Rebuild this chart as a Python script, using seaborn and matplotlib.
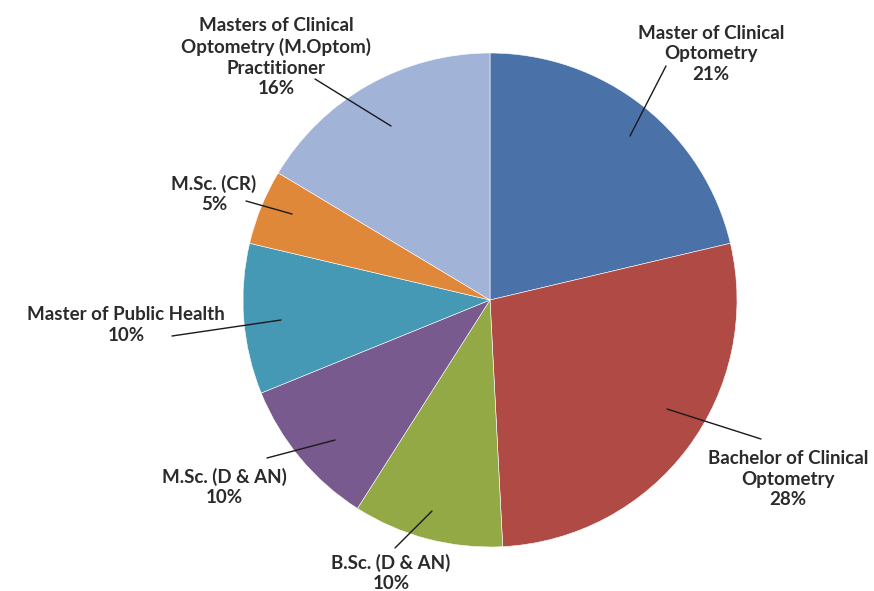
"""pie chart of programme shares, seaborn styling"""
import matplotlib
matplotlib.use("Agg")
import matplotlib.pyplot as plt
import seaborn as sns

sns.set_style("white")
plt.rcParams["font.family"] = ["Lato", "DejaVu Sans"]

programmes = [
    "Master of Clinical\nOptometry",
    "Bachelor of Clinical\nOptometry",
    "B.Sc. (D & AN)",
    "M.Sc. (D & AN)",
    "Master of Public Health",
    "M.Sc. (CR)",
    "Masters of Clinical\nOptometry (M.Optom)\nPractitioner",
]
counts = [13, 17, 6, 6, 6, 3, 10]
colours = ["#4a72a8", "#b04a45", "#93a945", "#785a8f", "#4599b5", "#e0883a", "#a2b3d8"]

W, H = 874, 591
# label centre and leader line (pixel coords, y down)
label_pos = [(711, 54), (788, 479), (391, 573), (224, 487), (126, 325), (214, 194), (276, 57)]
leader = [
    ((630, 136), (666, 66)),
    ((667, 409), (761, 439)),
    ((432, 511), (395, 548)),
    ((335, 440), (267, 458)),
    ((281, 320), (172, 336)),
    ((292, 214), (246, 201)),
    ((391, 126), (315, 79)),
]

fig = plt.figure(figsize=(W / 100, H / 100), dpi=100)
ax = fig.add_axes([0, 0, 1, 1])

ax.pie(
    counts,
    colors=colours,
    startangle=90,
    counterclock=False,
    center=(490, H - 300),
    radius=247,
    wedgeprops={"edgecolor": "white", "linewidth": 0.4},
    frame=True,
)
ax.set_xlim(0, W)
ax.set_ylim(0, H)
ax.set_aspect("equal")
ax.axis("off")

total = sum(counts)
for name, n, (lx, ly), (p0, p1) in zip(programmes, counts, label_pos, leader):
    pct = round(n / total * 100)
    ax.text(
        lx, H - ly, f"{name}\n{pct}%",
        ha="center", va="center", fontsize=13.5, fontweight="bold",
        color="#2b2b2b", linespacing=1.27,
    )
    ax.plot([p0[0], p1[0]], [H - p0[1], H - p1[1]], color="#1a1a1a", lw=1)

fig.savefig("out.png", dpi=100)
